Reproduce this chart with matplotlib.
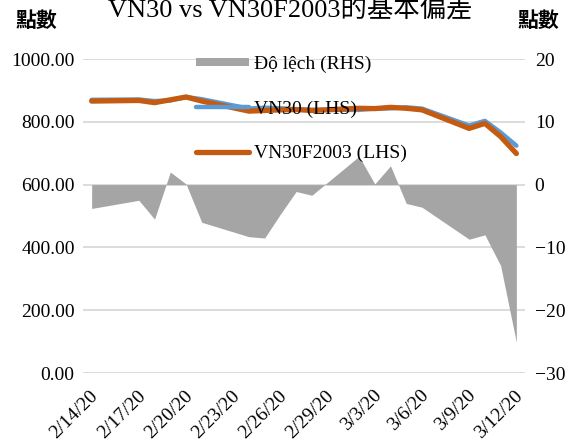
import matplotlib
matplotlib.use("Agg")
import matplotlib.pyplot as plt
import matplotlib.patches as mpatches
import matplotlib.transforms as mtransforms
from matplotlib.legend_handler import HandlerPatch
from matplotlib.lines import Line2D
import pandas as pd

# ---- data ----
dates = ["2020-02-14", "2020-02-17", "2020-02-18", "2020-02-19", "2020-02-20",
         "2020-02-21", "2020-02-24", "2020-02-25", "2020-02-26", "2020-02-27",
         "2020-02-28", "2020-03-02", "2020-03-03", "2020-03-04", "2020-03-05",
         "2020-03-06", "2020-03-09", "2020-03-10", "2020-03-11", "2020-03-12"]
vn30 = [870, 871, 866, 868, 879, 872, 842, 845, 843, 840,
        838, 838, 842, 843, 846, 842, 788, 803, 766, 724]
vn30f = [866, 868, 861, 870, 879, 866, 834, 836, 838, 839,
         836, 843, 842, 846, 843, 838, 779, 795, 753, 699]
deviation = [-3.8, -2.5, -5.5, 2.0, 0.1, -6.0, -8.3, -8.5, -4.7, -1.1,
             -1.7, 4.5, 0.1, 3.0, -3.0, -3.6, -8.7, -8.0, -12.9, -25.1]
tick_dates = ["2020-02-14", "2020-02-17", "2020-02-20", "2020-02-23", "2020-02-26",
              "2020-02-29", "2020-03-03", "2020-03-06", "2020-03-09", "2020-03-12"]
tick_labels = ["2/14/20", "2/17/20", "2/20/20", "2/23/20", "2/26/20",
               "2/29/20", "3/3/20", "3/6/20", "3/9/20", "3/12/20"]
left_ticks = [0, 200, 400, 600, 800, 1000]
left_tick_labels = ["0.00", "200.00", "400.00", "600.00", "800.00", "1000.00"]
right_ticks = [-30, -20, -10, 0, 10, 20]
title = "VN30 vs VN30F2003的基本偏差"
unit_label = "點數"
labels = ["Độ lệch (RHS)", "VN30 (LHS)", "VN30F2003 (LHS)"]

SERIF = ["Liberation Serif", "DejaVu Serif", "Noto Sans CJK TC"]
CJK = ["Noto Sans CJK TC", "DejaVu Sans"]
plt.rcParams["font.family"] = SERIF

x = pd.to_datetime(dates)
xt = pd.to_datetime(tick_dates)

fig = plt.figure(figsize=(5.77, 4.42), dpi=100)
ax = fig.add_axes([83/577, 1-373/442, (525-83)/577, (373-59)/442])
ax2 = ax.twinx()
ax.set_zorder(2)
ax2.set_zorder(1)
ax.patch.set_visible(False)

grey = "#a5a5a5"
blue = "#5b9bd5"
orange = "#c55a11"
grid_c = "#d9d9d9"

area = ax2.fill_between(x, deviation, 0, color=grey, linewidth=0, zorder=2)
l1, = ax.plot(x, vn30, color=blue, lw=3.2, solid_capstyle="round", zorder=3)
l2, = ax.plot(x, vn30f, color=orange, lw=3.8, solid_capstyle="round", zorder=4)

pad = pd.Timedelta(days=0.55)
ax.set_xlim(x[0] - pad, x[-1] + pad)
ax.set_ylim(0, 1000)
ax2.set_ylim(-30, 20)

ax2.set_axisbelow(True)
ax2.yaxis.grid(True, color=grid_c, lw=1.3)
ax.set_yticks(left_ticks)
ax.set_yticklabels(left_tick_labels)
ax2.set_yticks(right_ticks)
ax.set_xticks(xt)

for a in (ax, ax2):
    for s in a.spines.values():
        s.set_visible(False)
    a.tick_params(length=0, labelsize=14, colors="black")
ax.tick_params(axis="y", pad=6)
ax2.tick_params(axis="y", pad=7)
ax.tick_params(axis="x", labelsize=14, pad=0)
ax.set_xticklabels(tick_labels, rotation=45, ha="right", va="center",
                   rotation_mode="anchor")
shift = mtransforms.ScaledTranslation(4/100, -20/100, fig.dpi_scale_trans)
for lab in ax.get_xticklabels():
    lab.set_transform(lab.get_transform() + shift)

# legend
class ThinPatch(HandlerPatch):
    def create_artists(self, legend, orig_handle, xdescent, ydescent, width,
                       height, fontsize, trans):
        h = 8 * 72 / legend.figure.dpi
        p = mpatches.Rectangle((-xdescent, -ydescent + height/2 - h/2), width, h,
                               facecolor=grey, edgecolor="none", transform=trans)
        return [p]

proxy = mpatches.Patch(color=grey)
leg = ax.legend([proxy, Line2D([], [], color=blue, lw=3.2, solid_capstyle="round"),
                 Line2D([], [], color=orange, lw=3.8, solid_capstyle="round")],
                labels, loc="upper left", bbox_to_anchor=(196/577, 1-55/442),
                bbox_transform=fig.transFigure, frameon=False, fontsize=14,
                borderpad=0, borderaxespad=0, handlelength=2.7,
                handletextpad=0.3, labelspacing=1.4,
                handler_map={mpatches.Patch: ThinPatch()})
leg.set_zorder(10)

fig.text(290/577, 1-17/442, title, ha="center", va="baseline", fontsize=19,
         family=SERIF[:1] + ["Noto Sans CJK TC"])
fig.text(16/577, 1-31/442, unit_label, ha="left", va="bottom", fontsize=15,
         family=CJK, fontweight="bold")
fig.text(518/577, 1-31/442, unit_label, ha="left", va="bottom", fontsize=15,
         family=CJK, fontweight="bold")

fig.savefig("out.png", dpi=100)
